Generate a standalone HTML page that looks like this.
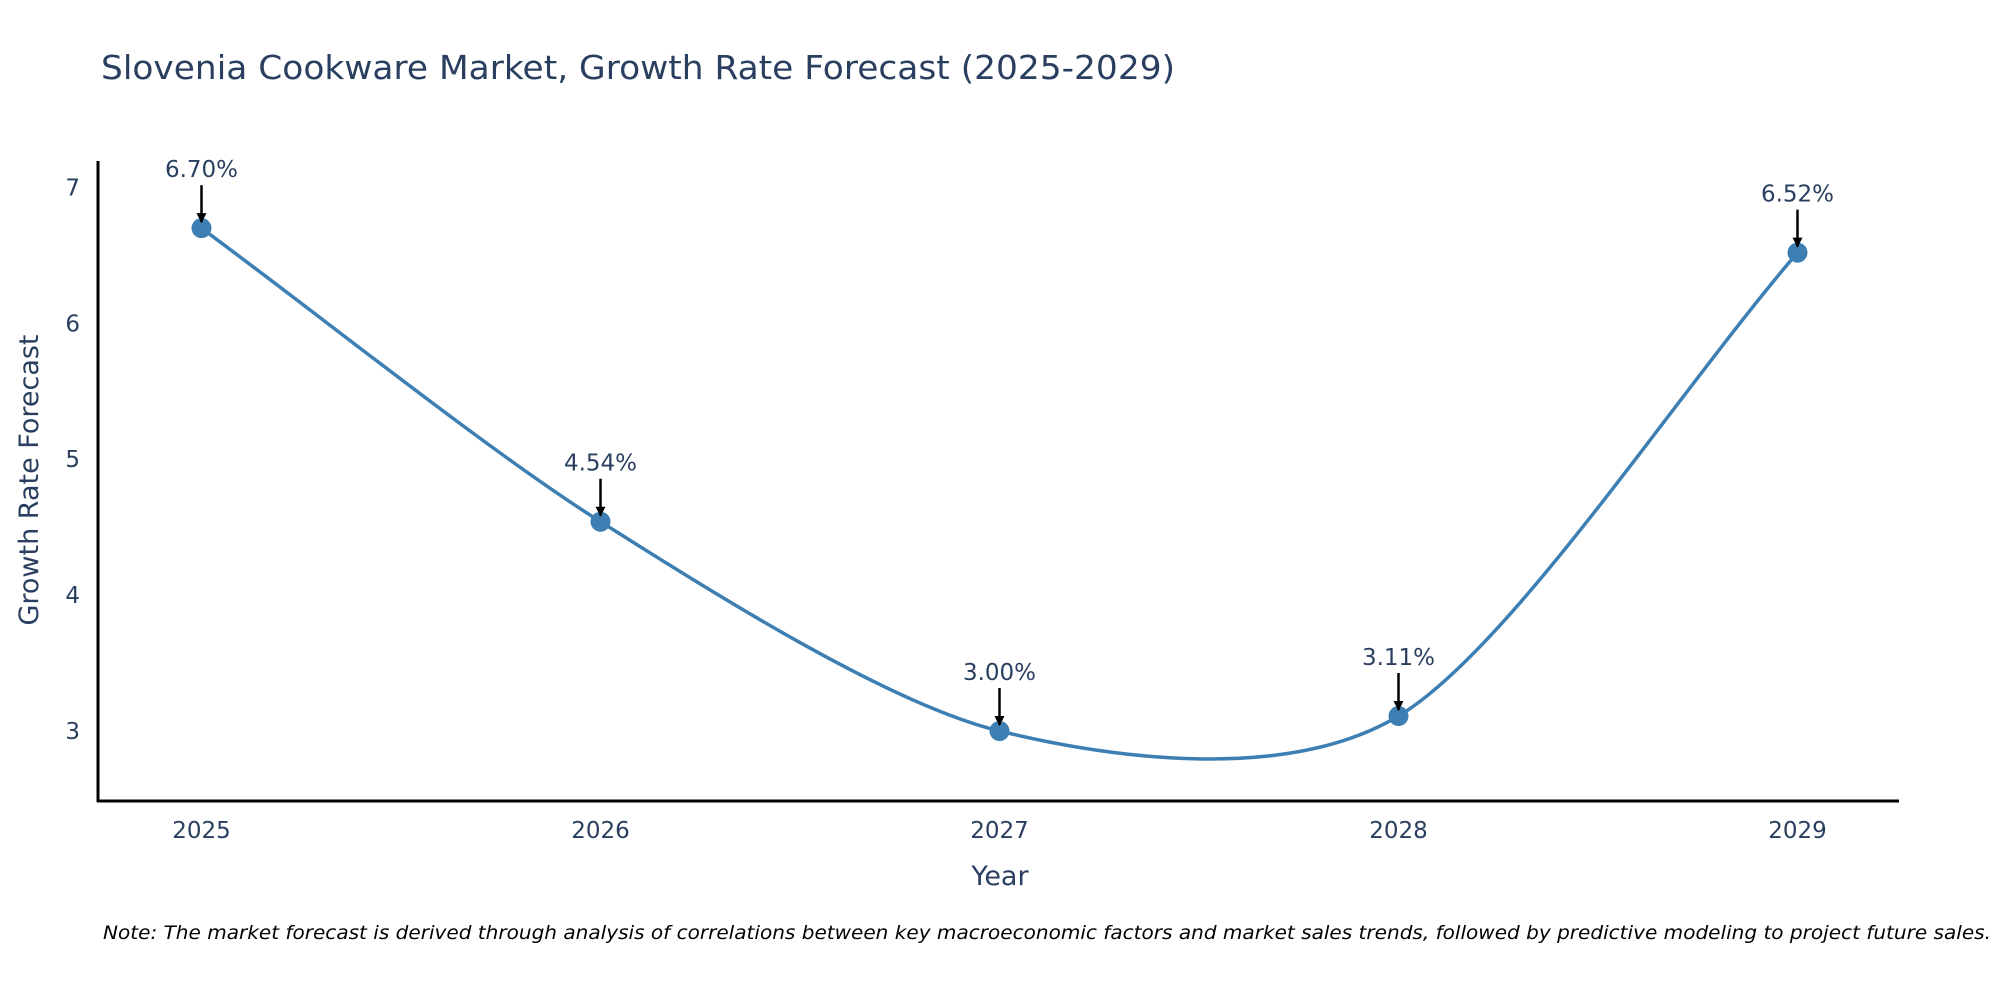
<!DOCTYPE html>
<html><head><meta charset="utf-8"><style>
html,body{margin:0;padding:0;background:#fff;width:2000px;height:1000px;overflow:hidden}
svg text{font-family:"DejaVu Sans","Liberation Sans",sans-serif}
</style></head><body>
<svg width="2000" height="1000" xmlns="http://www.w3.org/2000/svg">
<defs><marker id="ah" viewBox="0 0 10 10" refX="9" refY="5" markerWidth="4" markerHeight="4" orient="auto"><path d="M0,0 L10,5 L0,10 z" fill="#000"/></marker></defs>
<text x="101" y="79" font-size="33" fill="#2a3f5f" textLength="1074" lengthAdjust="spacingAndGlyphs">Slovenia Cookware Market, Growth Rate Forecast (2025-2029)</text>
<g id="yticks"></g><g id="xticks"></g>
<line x1="98" y1="161" x2="98" y2="802" stroke="#000" stroke-width="3"/>
<line x1="97" y1="801" x2="1899" y2="801" stroke="#000" stroke-width="3"/>
<text transform="translate(38,480) rotate(-90)" text-anchor="middle" font-size="27" fill="#2a3f5f">Growth Rate Forecast</text>
<text x="1000" y="885" text-anchor="middle" font-size="27" fill="#2a3f5f">Year</text>
<path id="line" fill="none" stroke="#3d7fb3" stroke-width="3.5"/>
<g id="marks"></g>
<text x="103" y="939" font-size="19" font-style="italic" fill="#000" textLength="1888" lengthAdjust="spacingAndGlyphs">Note: The market forecast is derived through analysis of correlations between key macroeconomic factors and market sales trends, followed by predictive modeling to project future sales.</text>
</svg>
<script>
const years=[2025,2026,2027,2028,2029];
const values=[6.70,4.54,3.00,3.11,6.52];
const labels=["6.70%","4.54%","3.00%","3.11%","6.52%"];
const yTicks=[3,4,5,6,7];
const NS="http://www.w3.org/2000/svg";
const X=v=>201.5+(v-2025)*399;
const Y=v=>731-(v-3)*135.9;
function mk(t,a,p){const e=document.createElementNS(NS,t);for(const k in a)e.setAttribute(k,a[k]);p.appendChild(e);return e;}
const yt=document.getElementById('yticks');
yTicks.forEach(t=>{const e=mk('text',{x:80,y:Y(t)+8,'text-anchor':'end','font-size':23,fill:'#2a3f5f'},yt);e.textContent=t;

});
const xt=document.getElementById('xticks');
years.forEach(t=>{const e=mk('text',{x:X(t),y:838,'text-anchor':'middle','font-size':23,fill:'#2a3f5f'},xt);e.textContent=t;

});
const P=years.map((y,i)=>[X(y),Y(values[i])]);
let d=`M${P[0][0]},${P[0][1]}`;
const tan=i=>{const p0=P[Math.max(0,i-1)],p2=P[Math.min(P.length-1,i+1)];return [p2[0]-p0[0],p2[1]-p0[1]];};
for(let i=0;i<P.length-1;i++){
 const a=P[i],b=P[i+1];const ta=tan(i),tb=tan(i+1);
 const s1=(i===0)?0.3:0.14, s2=(i+1===P.length-1)?0.3:0.14;
 const c1=[a[0]+ta[0]*s1,a[1]+ta[1]*s1], c2=[b[0]-tb[0]*s2,b[1]-tb[1]*s2];
 d+=` C${c1[0]},${c1[1]} ${c2[0]},${c2[1]} ${b[0]},${b[1]}`;
}
document.getElementById('line').setAttribute('d',d);
const g=document.getElementById('marks');
P.forEach((p,i)=>{
 const c=mk('circle',{cx:p[0],cy:p[1],r:10,fill:'#3d7fb3'},g);
 
 
 const l=mk('line',{x1:p[0],y1:p[1]-43,x2:p[0],y2:p[1]-6,stroke:'#000','stroke-width':2.5,'marker-end':'url(#ah)'},g);
 
 
 const t=mk('text',{x:p[0],y:p[1]-51,'text-anchor':'middle','font-size':23,fill:'#2a3f5f'},g);t.textContent=labels[i];
 
 
});
</script>
</body></html>
